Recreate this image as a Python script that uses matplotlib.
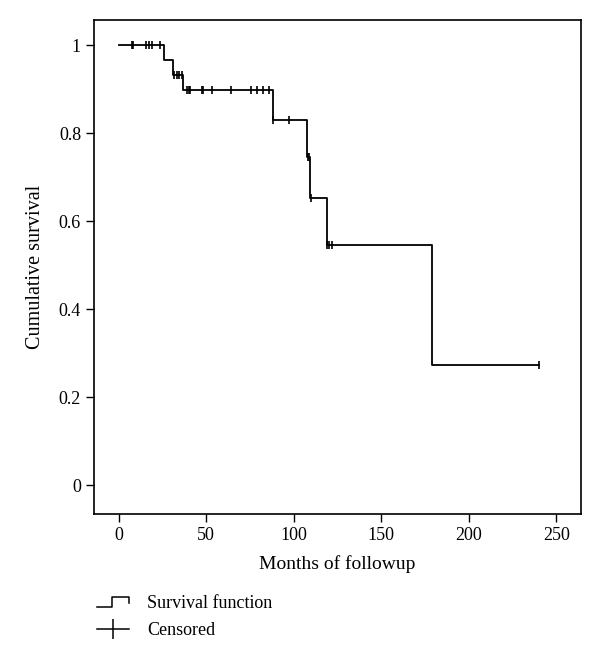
import numpy as np
import matplotlib
matplotlib.use('Agg')
import matplotlib.pyplot as plt
from matplotlib.lines import Line2D
from matplotlib.legend_handler import HandlerBase

plt.rcParams['font.family'] = ['Liberation Serif', 'DejaVu Serif']

# Kaplan-Meier steps
event_months = [0, 26, 31.3, 36.8, 88, 107.3, 109.2, 119, 179, 240]
survival = [1.0, 0.966, 0.931, 0.897, 0.829, 0.746, 0.653, 0.545, 0.273, 0.273]

# censored observations (months)
censored_months = [7.5, 8.3, 15.5, 17.2, 18.9, 23.5,
                   31.8, 33.2, 34.6, 36.4,
                   39.2, 40.0, 40.8, 47.4, 48.4, 53.3, 64.3, 75.5, 78.8, 82.2, 86.0,
                   88.0, 97.3, 108.2, 108.6, 109.6, 119.0, 120.0, 121.8, 240.0]

xticks = [0, 50, 100, 150, 200, 250]
yticks = [0, 0.2, 0.4, 0.6, 0.8, 1.0]
ytick_labels = ['0', '0.2', '0.4', '0.6', '0.8', '1']


class StepHandler(HandlerBase):
    def create_artists(self, legend, orig_handle, xdescent, ydescent,
                       width, height, fontsize, trans):
        x0 = -xdescent
        y0 = -ydescent
        xs = [x0, x0 + 0.47 * width, x0 + 0.47 * width, x0 + width, x0 + width]
        ys = [y0 + 0.1 * height, y0 + 0.1 * height, y0 + 0.9 * height,
              y0 + 0.9 * height, y0 + 0.4 * height]
        ln = Line2D(xs, ys, color='black', lw=1.1, transform=trans)
        return [ln]


fig = plt.figure(figsize=(6, 6.64), dpi=100)
ax = fig.add_axes([0.157, 0.226, 0.811, 0.744])

ax.step(event_months, survival, where='post', color='black', lw=1.3)

idx = np.searchsorted(event_months, censored_months, side='right') - 1
cens_surv = np.array(survival)[idx]
ax.plot(censored_months, cens_surv, linestyle='none', marker='|',
        color='black', markersize=6, markeredgewidth=1.2)

ax.set_xlim(-14, 264)
ax.set_ylim(-0.065, 1.057)
ax.set_xticks(xticks)
ax.set_yticks(yticks)
ax.set_yticklabels(ytick_labels)
ax.tick_params(labelsize=13, length=6, width=1, direction='out')
for s in ax.spines.values():
    s.set_linewidth(1.2)

ax.set_xlabel('Months of followup', fontsize=14, labelpad=8)
ax.set_ylabel('Cumulative survival', fontsize=14.5, labelpad=10)

step_handle = Line2D([], [], color='black')
cens_handle = Line2D([], [], color='black', lw=1.1, marker='|',
                     markersize=14, markeredgewidth=1.1)
fig.legend([step_handle, cens_handle], ['Survival function', 'Censored'],
           handler_map={step_handle: StepHandler()},
           loc='upper left', bbox_to_anchor=(0.134, 0.128), frameon=False,
           fontsize=13, handlelength=1.8, handletextpad=1.0,
           labelspacing=0.55, numpoints=1)

fig.savefig('out.png', dpi=100)
